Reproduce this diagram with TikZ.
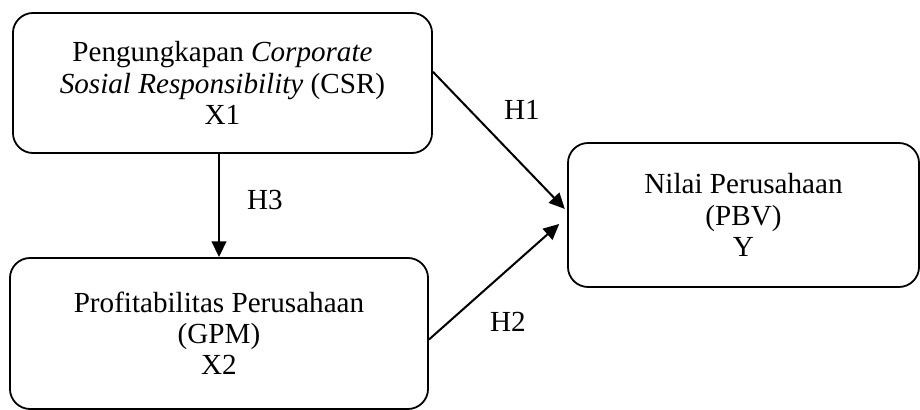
\documentclass[tikz,border=0pt]{standalone}
\usepackage{fontspec}
\setmainfont{Liberation Serif}
\usepackage{tikz}
\usetikzlibrary{arrows.meta}

\begin{document}
\begin{tikzpicture}[x=0.01569cm, y=-0.01569cm,
    every node/.style={font=\fontsize{13}{13.9}\selectfont},
    varbox/.style={draw, thick, rounded corners=9pt, align=center}, % kotak variabel
    hyp/.style={line width=0.9pt, -{Triangle[length=7pt, width=6.5pt]}}, % panah hipotesis
    ]
    \useasboundingbox (0,0) rectangle (920,410);

    \node[varbox, minimum width=6.574cm, minimum height=2.197cm] (csr) at (222.5,83)
      {Pengungkapan \textit{Corporate}\\ \textit{Sosial Responsibility} (CSR)\\ X1};
    \node[varbox, minimum width=6.558cm, minimum height=2.369cm] (gpm) at (219,333.5)
      {Profitabilitas Perusahaan\\ (GPM)\\ X2};
    \node[varbox, minimum width=5.507cm, minimum height=2.259cm] (pbv) at (743.5,215)
      {Nilai Perusahaan\\ (PBV)\\ Y};

    \draw[hyp] ([yshift=5pt]csr.east) -- ([xshift=-1pt, yshift=2.7pt]pbv.west); % H1
    \draw[hyp] ([yshift=-2.7pt]gpm.east) -- ([xshift=-3.5pt, yshift=-4pt]pbv.west); % H2
    \draw[hyp] (gpm.north |- csr.south) -- (gpm.north); % H3

    \node (h1) at (522,110) {H1};
    \node (h2) at (508,322) {H2};
    \node (h3) at (265,200) {H3};
\end{tikzpicture}
\end{document}
